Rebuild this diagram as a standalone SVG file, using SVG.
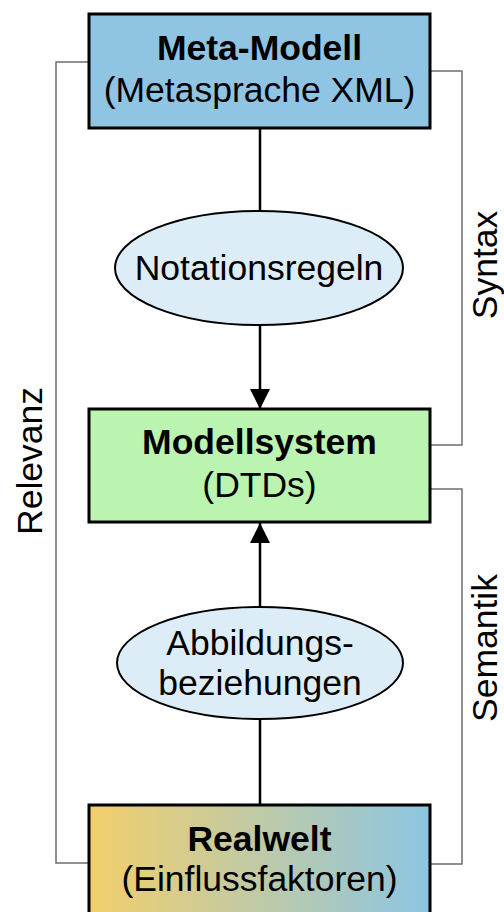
<svg xmlns="http://www.w3.org/2000/svg" width="504" height="912" viewBox="0 0 504 912">
  <style>
    .box { stroke: #000; stroke-width: 3; }
    .oval { fill: #DDEDF7; stroke: #000; stroke-width: 2; }
    .t { font-family: "Liberation Sans", Arial, sans-serif; font-size: 35.5px; fill: #000; text-anchor: middle; }
    .b { font-weight: bold; }
    .link { stroke: #000; stroke-width: 2.5; fill: none; }
    .bracket { stroke: #6E6E6E; stroke-width: 1.5; fill: none; }
  </style>
  <defs>
    <linearGradient id="realGrad" x1="0" y1="0" x2="1" y2="0">
      <stop offset="0" stop-color="#F2CF6B"/>
      <stop offset="1" stop-color="#8CC5E3"/>
    </linearGradient>
    <marker id="arrow" viewBox="0 0 20 20" refX="20" refY="10" markerWidth="20" markerHeight="20" markerUnits="userSpaceOnUse" orient="auto">
      <path d="M0,0 L20,10 L0,20 Z" fill="#000"/>
    </marker>
  </defs>

  <!-- side brackets and their labels -->
  <g id="brackets">
    <polyline class="bracket" points="89,62 56,62 56,863 89,863"/>
    <polyline class="bracket" points="430,71 462,71 462,445 430,445"/>
    <polyline class="bracket" points="430,489 462,489 462,864 430,864"/>
    <text class="t" transform="translate(42,461) rotate(-90)">Relevanz</text>
    <text class="t" transform="translate(497,265) rotate(-90)">Syntax</text>
    <text class="t" transform="translate(497,648) rotate(-90)">Semantik</text>
  </g>

  <!-- connectors -->
  <g id="connectors">
    <line class="link" x1="260" y1="128" x2="260" y2="211"/>
    <line class="link" x1="260" y1="324" x2="260" y2="409" marker-end="url(#arrow)"/>
    <line class="link" x1="260" y1="805" x2="260" y2="719"/>
    <line class="link" x1="260" y1="608" x2="260" y2="523" marker-end="url(#arrow)"/>
  </g>

  <g id="meta-modell">
    <rect class="box" x="89" y="14" width="341" height="114" fill="#8FC4E3"/>
    <text class="t b" x="259.5" y="60">Meta-Modell</text>
    <text class="t" x="259.5" y="102">(Metasprache XML)</text>
  </g>

  <g id="notationsregeln">
    <ellipse class="oval" cx="259" cy="268" rx="144" ry="57"/>
    <text class="t" x="259" y="280">Notationsregeln</text>
  </g>

  <g id="modellsystem">
    <rect class="box" x="89" y="409" width="341" height="113" fill="#BBF3B1"/>
    <text class="t b" x="259.5" y="454">Modellsystem</text>
    <text class="t" x="259.5" y="497">(DTDs)</text>
  </g>

  <g id="abbildungsbeziehungen">
    <ellipse class="oval" cx="260" cy="663" rx="143" ry="56"/>
    <text class="t" x="260" y="655">Abbildungs-</text>
    <text class="t" x="260" y="695">beziehungen</text>
  </g>

  <g id="realwelt">
    <rect class="box" x="89" y="805" width="341" height="120" fill="url(#realGrad)"/>
    <text class="t b" x="259.5" y="851">Realwelt</text>
    <text class="t" x="259.5" y="891">(Einflussfaktoren)</text>
  </g>
</svg>
